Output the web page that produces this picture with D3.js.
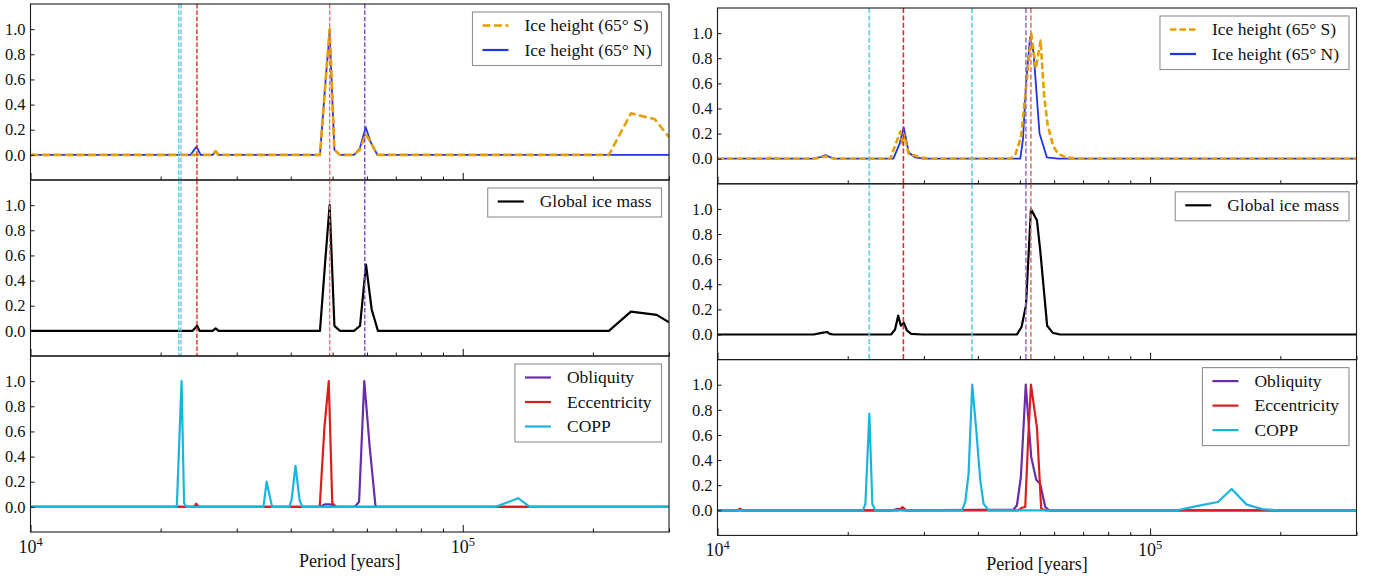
<!DOCTYPE html>
<html><head><meta charset="utf-8">
<script src="https://cdn.jsdelivr.net/npm/d3@7"></script>
<style>
body{margin:0;background:#fff}
svg{display:block}
text{font-family:"Liberation Serif","Times New Roman",serif;fill:#111}
</style>
</head><body>
<svg id="c" width="1378" height="581"></svg>
<script>
// ---------- shared axis data ----------
const X_DOMAIN = [1e4, 3e5];
const Y_DOMAIN = [-0.2, 1.2];
const Y_TICKS = [0, 0.2, 0.4, 0.6, 0.8, 1.0];
const X_MAJOR = [1e4, 1e5];
const X_MINOR = [2e4, 3e4, 4e4, 5e4, 6e4, 7e4, 8e4, 9e4, 2e5, 3e5];
const X_LABEL = "Period [years]";
const LEGEND_TOP = ["Ice height (65° S)", "Ice height (65° N)"];
const LEGEND_MID = ["Global ice mass"];
const LEGEND_BOT = ["Obliquity", "Eccentricity", "COPP"];

// ---------- left figure ----------
const L_iceN_P = [1e4, 23460, 24220, 24750, 26380, 26810, 27240, 46740, 48180, 49210, 50470, 52000, 56030, 57760, 59640, 61240, 63460, 3e5];
const L_iceN_V = [0, 0, 0.066, 0, 0, 0.025, 0, 0, 0.6, 0.97, 0.04, 0, 0, 0.05, 0.22, 0.1, 0, 0];
const L_iceS_P = [1e4, 26380, 26810, 27240, 46740, 48180, 49210, 50470, 52000, 56030, 57760, 59640, 61240, 63460, 217800, 244900, 278300, 3e5];
const L_iceS_V = [0, 0, 0.03, 0, 0, 0.6, 1.0, 0.04, 0, 0, 0.04, 0.167, 0.1, 0, 0, 0.33, 0.283, 0.14];
const L_ice_P = [1e4, 23710, 24300, 24610, 26380, 26810, 27240, 46740, 48180, 49210, 50470, 52000, 56030, 57850, 59730, 61560, 63650, 217800, 244900, 281000, 3e5];
const L_ice_V = [0, 0, 0.04, 0, 0, 0.02, 0, 0, 0.6, 1.0, 0.04, 0, 0, 0.04, 0.527, 0.17, 0, 0, 0.153, 0.127, 0.069];
const L_obl_P = [1e4, 46670, 48100, 49460, 50370, 56260, 57560, 59180, 60900, 62850, 3e5];
const L_obl_V = [0, 0, 0.02, 0.02, 0, 0, 0.04, 1.0, 0.48, 0, 0];
const L_ecc_P = [1e4, 23900, 24180, 24520, 46670, 47870, 48980, 49900, 50950, 3e5];
const L_ecc_V = [0, 0, 0.025, 0, 0, 0.636, 1.0, 0.03, 0, 0];
const L_copp_P = [1e4, 21800, 22360, 22660, 22960, 34590, 35180, 36210, 39700, 40200, 41020, 41950, 42560, 119100, 134300, 142900, 3e5];
const L_copp_V = [0, 0, 1.0, 0.03, 0, 0, 0.2, 0, 0, 0.06, 0.327, 0.05, 0, 0, 0.069, 0, 0];
const L_vline_P = [22030, 22290, 24270, 49210, 59330];
const L_vline_kind = ["copp", "copp", "ecc", "ecc2", "obl"];

// ---------- right figure ----------
const R_iceN_P = [1e4, 16660, 17390, 17760, 18140, 18630, 25500, 26370, 26930, 27320, 27660, 28660, 29910, 50100, 50820, 51670, 52780, 53770, 55510, 57740, 61250, 3e5];
const R_iceN_V = [0, 0, 0.015, 0.029, 0.015, 0, 0, 0.12, 0.25, 0.15, 0.05, 0.01, 0, 0, 0.15, 0.6, 0.97, 0.85, 0.2, 0.01, 0, 0];
const R_iceS_P = [1e4, 12900, 13330, 13800, 16660, 17390, 17760, 18140, 18630, 25090, 26470, 26790, 27030, 27660, 29430, 31040, 47510, 48790, 50300, 51450, 53110, 54440, 55840, 56900, 57960, 59700, 61300, 63970, 68920, 3e5];
const R_iceS_V = [0, 0, 0.01, 0, 0, 0.01, 0.02, 0.01, 0, 0, 0.216, 0.12, 0.19, 0.04, 0.01, 0, 0, 0.03, 0.17, 0.5, 1.0, 0.72, 0.94, 0.5, 0.27, 0.1, 0.04, 0.01, 0, 0];
const R_ice_P = [1e4, 16680, 17410, 17920, 18170, 18530, 25190, 25730, 26160, 26540, 26970, 27430, 28050, 29740, 49220, 50440, 51640, 53040, 54750, 55720, 57810, 59600, 61950, 3e5];
const R_ice_V = [0, 0, 0.013, 0.02, 0.005, 0, 0, 0.04, 0.15, 0.07, 0.093, 0.03, 0.005, 0, 0, 0.06, 0.23, 1.0, 0.91, 0.67, 0.07, 0.013, 0, 0];
const R_obl_P = [1e4, 25360, 26160, 26890, 48330, 49220, 50270, 51590, 53110, 54550, 55720, 57220, 58540, 3e5];
const R_obl_V = [0, 0, 0.012, 0, 0.005, 0.04, 0.265, 1.0, 0.424, 0.244, 0.21, 0.026, 0, 0];
const R_ecc_P = [1e4, 11120, 11270, 11420, 26180, 26770, 27320, 49570, 50550, 51450, 52230, 53040, 54750, 56010, 57220, 3e5];
const R_ecc_V = [0, 0, 0.012, 0, 0, 0.025, 0, 0, 0.02, 0.026, 0.55, 1.0, 0.66, 0.013, 0, 0];
const R_copp_P = [1e4, 21680, 21970, 22440, 22800, 23170, 36740, 37390, 38050, 38800, 39640, 40490, 41210, 42320, 115400, 128960, 143430, 154370, 167220, 181420, 197340, 3e5];
const R_copp_V = [0, 0, 0.05, 0.77, 0.05, 0, 0, 0.066, 0.29, 1.0, 0.64, 0.24, 0.053, 0, 0, 0.035, 0.066, 0.17, 0.045, 0.01, 0, 0];
const R_vline_P = [22430, 26900, 38730, 51630, 53030];
const R_vline_kind = ["copp", "ecc", "copp", "obl2", "ecc2"];

// ---------- styles ----------
const COL = {iceS: "#E69F00", iceN: "#1f35e3", ice: "#000000", obl: "#6b2ca8", ecc: "#d81e1e", copp: "#1ab5dd"};
const VCOL = {copp: "#5ccbe4", ecc: "#dc2a2a", ecc2: "#e87070", obl: "#7848c2", obl2: "#9570cc"};

const figs = [
  {id: "L", x0: 30.5, x1: 669, tops: [4, 180, 356, 532], lw: 2.2, dashS: "8,3.5", vw: 1.4, vdash: "4.4,2",
   vP: L_vline_P, vK: L_vline_kind,
   data: {iceN: [L_iceN_P, L_iceN_V], iceS: [L_iceS_P, L_iceS_V], ice: [L_ice_P, L_ice_V],
          obl: [L_obl_P, L_obl_V], ecc: [L_ecc_P, L_ecc_V], copp: [L_copp_P, L_copp_V]}},
  {id: "R", x0: 717.5, x1: 1356.5, tops: [8, 183.8, 359.6, 535.4], lw: 2.2, dashS: "6.5,3", vw: 1.6, vdash: "5,2.4",
   vP: R_vline_P, vK: R_vline_kind,
   data: {iceN: [R_iceN_P, R_iceN_V], iceS: [R_iceS_P, R_iceS_V], ice: [R_ice_P, R_ice_V],
          obl: [R_obl_P, R_obl_V], ecc: [R_ecc_P, R_ecc_V], copp: [R_copp_P, R_copp_V]}}
];

const svg = d3.select("#c");
const defs = svg.append("defs");

function drawFig(f) {
  const x = d3.scaleLog().domain(X_DOMAIN).range([f.x0, f.x1]);
  const panels = [
    {draw: ["iceN", "iceS"], legend: [{k: "iceS", t: LEGEND_TOP[0]}, {k: "iceN", t: LEGEND_TOP[1]}]},
    {draw: ["ice"], legend: [{k: "ice", t: LEGEND_MID[0]}]},
    {draw: ["obl", "ecc", "copp"], legend: [{k: "obl", t: LEGEND_BOT[0]}, {k: "ecc", t: LEGEND_BOT[1]}, {k: "copp", t: LEGEND_BOT[2]}]}
  ];
  const styleOf = k => ({
    color: COL[k],
    width: k === "iceS" ? f.lw + 0.4 : (k === "iceN" ? f.lw - 0.4 : f.lw),
    dash: k === "iceS" ? f.dashS : null
  });
  panels.forEach((p, i) => {
    const top = f.tops[i], bot = f.tops[i + 1];
    const y = d3.scaleLinear().domain(Y_DOMAIN).range([bot, top]);
    const cid = `clip${f.id}${i}`;
    defs.append("clipPath").attr("id", cid).append("rect")
      .attr("x", f.x0).attr("y", top).attr("width", f.x1 - f.x0).attr("height", bot - top);
    const g = svg.append("g");
    const plot = g.append("g").attr("clip-path", `url(#${cid})`);
    const line = d3.line().x(d => x(d[0])).y(d => y(d[1]));
    p.draw.forEach(k => {
      const [P, V] = f.data[k];
      const st = styleOf(k);
      plot.append("path").datum(P.map((d, j) => [d, V[j]]))
        .attr("d", line).attr("fill", "none").attr("stroke", st.color)
        .attr("stroke-width", st.width).attr("stroke-dasharray", st.dash)
        .attr("stroke-linejoin", "round");
    });
    if (i < 2) {
      plot.selectAll("line.v").data(f.vP).enter().append("line")
        .attr("x1", d => x(d)).attr("x2", d => x(d)).attr("y1", top).attr("y2", bot)
        .attr("stroke", (d, j) => VCOL[f.vK[j]]).attr("stroke-width", f.vw)
        .attr("stroke-dasharray", f.vdash);
    }
    // axes
    const minor = d3.axisBottom(x).tickValues(X_MINOR).tickSize(-3.5).tickFormat("");
    const major = d3.axisBottom(x).tickValues(X_MAJOR).tickSize(-7).tickFormat("");
    [minor, major].forEach(a => {
      const ax = g.append("g").attr("transform", `translate(0,${bot})`).call(a);
      ax.select(".domain").remove();
      ax.selectAll("line").attr("stroke", "#111").attr("stroke-width", 1);
    });
    const ya = g.append("g").attr("transform", `translate(${f.x0},0)`)
      .call(d3.axisLeft(y).tickValues(Y_TICKS).tickSize(-4).tickPadding(5).tickFormat(d3.format(".1f")));
    ya.select(".domain").remove();
    ya.selectAll("line").attr("stroke", "#111");
    ya.selectAll("text").attr("font-size", 16.5).attr("font-family", "Liberation Serif").attr("fill", "#111");
    g.append("rect").attr("x", f.x0).attr("y", top).attr("width", f.x1 - f.x0).attr("height", bot - top)
      .attr("fill", "none").attr("stroke", "#1a1a1a").attr("stroke-width", 1.1);
    // legend
    const lg = g.append("g");
    const box = lg.append("rect");
    const rowH = 24.5, y0 = 13.5;
    let maxW = 0;
    const items = p.legend.map((e, j) => {
      const st = styleOf(e.k);
      const h = lg.append("line").attr("stroke", st.color).attr("stroke-width", e.k === "iceS" ? 2.4 : 2.2)
        .attr("stroke-dasharray", st.dash);
      const t = lg.append("text").text(e.t).attr("font-size", 17.5).attr("dy", "0.33em");
      maxW = Math.max(maxW, t.node().getComputedTextLength());
      return {h, t, j};
    });
    const bw = 52 + maxW + 10, bh = p.legend.length * rowH + 4.5;
    const bx = f.x1 - 7.5 - bw, by = top + 8;
    box.attr("x", bx).attr("y", by).attr("width", bw).attr("height", bh)
      .attr("fill", "#fff").attr("fill-opacity", 0.85).attr("stroke", "#8f8f8f").attr("stroke-width", 1.1);
    items.forEach(({h, t, j}) => {
      const yy = by + y0 + j * rowH;
      h.attr("x1", bx + 10).attr("x2", bx + 36).attr("y1", yy).attr("y2", yy);
      t.attr("x", bx + 52).attr("y", yy);
    });
    // x tick labels on bottom panel
    if (i === 2) {
      X_MAJOR.forEach(v => {
        const t = g.append("text").attr("x", x(v)).attr("y", bot + 21).attr("text-anchor", "middle").attr("font-size", 18);
        t.append("tspan").text("10");
        t.append("tspan").text(String(Math.round(Math.log10(v)))).attr("font-size", 12.5).attr("dy", -7);
      });
      g.append("text").attr("x", (f.x0 + f.x1) / 2).attr("y", bot + 35).attr("text-anchor", "middle")
        .attr("font-size", 18).text(X_LABEL);
    }
  });
}
figs.forEach(drawFig);
</script>
</body></html>
